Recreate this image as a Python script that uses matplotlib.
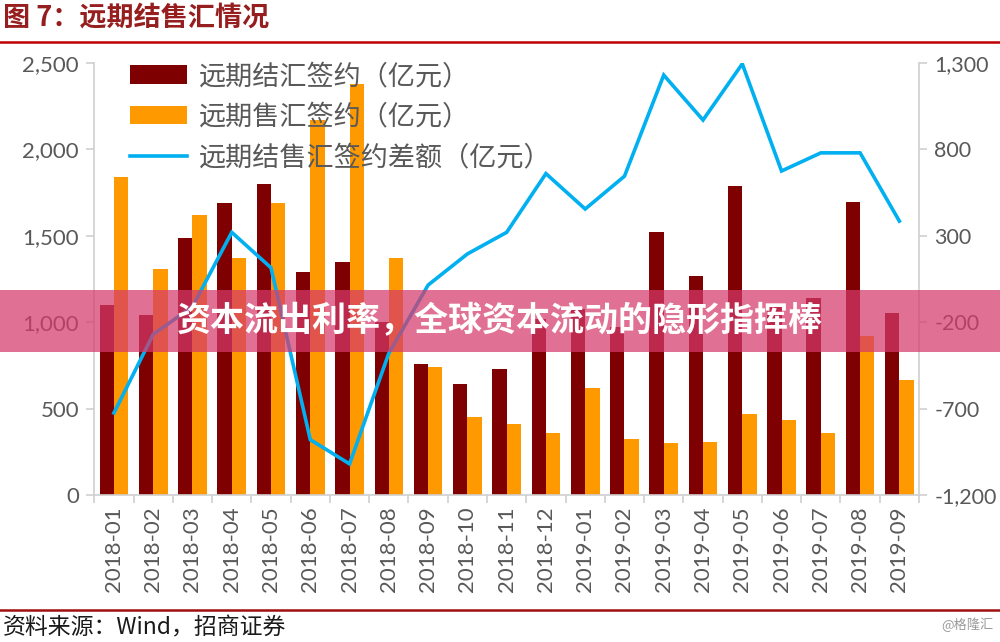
import matplotlib
matplotlib.use("Agg")
import matplotlib.pyplot as plt
from matplotlib.patches import Rectangle, Patch
from matplotlib.lines import Line2D
from matplotlib.ticker import FuncFormatter
import numpy as np

months = ['2018-01', '2018-02', '2018-03', '2018-04', '2018-05', '2018-06', '2018-07',
          '2018-08', '2018-09', '2018-10', '2018-11', '2018-12', '2019-01', '2019-02',
          '2019-03', '2019-04', '2019-05', '2019-06', '2019-07', '2019-08', '2019-09']
jiehui = [1100, 1040, 1490, 1690, 1800, 1290, 1350, 1000, 760, 645, 730, 1020,
          1075, 970, 1520, 1265, 1790, 1105, 1140, 1695, 1055]
shouhui = [1840, 1310, 1620, 1370, 1690, 2170, 2380, 1370, 740, 450, 410, 360,
           620, 325, 300, 305, 470, 435, 360, 920, 665]
diff = [-725, -270, -110, 320, 115, -880, -1020, -380, 15, 195, 320, 660,
        455, 645, 1230, 970, 1295, 675, 780, 780, 385]

left_ticks = [0, 500, 1000, 1500, 2000, 2500]
right_ticks = [-1200, -700, -200, 300, 800, 1300]

labels = ['远期结汇签约（亿元）', '远期售汇签约（亿元）', '远期结售汇签约差额（亿元）']
title = '图 7：远期结售汇情况'
source = '资料来源：Wind，招商证券'
banner = '资本流出利率，全球资本流动的隐形指挥棒'
watermark = '@格隆汇'

CJK = ['Noto Sans CJK SC', 'DejaVu Sans']
NUM = ['Lato', 'DejaVu Sans']
DARK = '#7F0000'
ORANGE = '#FF9900'
BLUE = '#00B0F0'
GRAY = '#595959'
SPINE = '#D0D0D0'

fig = plt.figure(figsize=(10, 6.42), dpi=100)
W, H = 1000, 642
ax = fig.add_axes([94.3 / W, (H - 495) / H, (919 - 94.3) / W, (495 - 63) / H])
ax2 = ax.twinx()

x = np.arange(len(months))
bw = 0.365
ax.bar(x - bw / 2, jiehui, width=bw, color=DARK, zorder=2)
ax.bar(x + bw / 2, shouhui, width=bw, color=ORANGE, zorder=2)
ax2.plot(x, diff, color=BLUE, lw=2.6, solid_joinstyle='miter', zorder=3)

ax.set_xlim(-0.5, len(months) - 0.5)
ax.set_ylim(0, 2500)
ax2.set_ylim(-1200, 1300)
ax.set_yticks(left_ticks)
ax2.set_yticks(right_ticks)
fmt = FuncFormatter(lambda v, p: f'{int(v):,}')
ax.yaxis.set_major_formatter(fmt)
ax2.yaxis.set_major_formatter(fmt)

ax.set_xticks(x)
ax.set_xticklabels(months, rotation=90, fontfamily=NUM, fontsize=16, color=GRAY)
ax.set_xticks(np.arange(-0.5, len(months)), minor=True)
ax.tick_params(axis='x', which='major', length=0, pad=8)
ax.tick_params(axis='x', which='minor', length=6, color=SPINE, width=1.2)

for a in (ax, ax2):
    for s in a.spines.values():
        s.set_visible(False)
for s in (ax.spines['left'], ax.spines['bottom'], ax2.spines['right']):
    s.set_visible(True)
    s.set_color(SPINE)
    s.set_linewidth(1.2)

ax.tick_params(axis='y', length=6, color=SPINE, width=1.2, pad=5, labelsize=16, labelcolor=GRAY)
ax2.tick_params(axis='y', length=6, color=SPINE, width=1.2, pad=5, labelsize=15.5, labelcolor=GRAY)
for lab in ax.get_yticklabels() + ax2.get_yticklabels():
    lab.set_fontfamily(NUM)

handles = [Patch(facecolor=DARK, edgecolor='none'),
           Patch(facecolor=ORANGE, edgecolor='none'),
           Line2D([0], [0], color=BLUE, lw=2.6)]
leg = ax2.legend(handles, labels, loc='upper left', bbox_to_anchor=(130 / W, (H - 63) / H),
                 bbox_transform=fig.transFigure, frameon=False, borderpad=0, borderaxespad=0,
                 handlelength=2.1, handleheight=0.68, handletextpad=0.45, labelspacing=0.5,
                 prop={'family': CJK, 'size': 19.5})
for t in leg.get_texts():
    t.set_color(GRAY)
leg.set_zorder(5)

# header / footer
fig.text(3 / W, 1 - 18 / H, title, fontfamily=CJK, fontsize=19.5, fontweight='bold',
         color='#961E1E', va='center', ha='left')
fig.add_artist(Line2D([0, 1], [1 - 42 / H, 1 - 42 / H], color='#C00000', lw=1.8,
                      transform=fig.transFigure))
fig.add_artist(Line2D([0, 1], [1 - 610 / H, 1 - 610 / H], color='#A01010', lw=1.8,
                      transform=fig.transFigure))
fig.text(3 / W, 1 - 628 / H, source, fontfamily=CJK, fontsize=16.5, color='#1A1A1A',
         va='center', ha='left')
fig.text(993 / W, 1 - 625 / H, watermark, fontfamily=CJK, fontsize=9.5, color='#9A9A9A',
         va='center', ha='right')

# banner overlay
fig.add_artist(Rectangle((0, 1 - 352 / H), 1, 62 / H, transform=fig.transFigure,
                         facecolor='#D63A6B', alpha=0.72, edgecolor='none', zorder=10))
fig.text(500 / W, 1 - 321 / H, banner, fontfamily=CJK, fontsize=24.5, fontweight='bold',
         color='white', va='center', ha='center', zorder=11)

fig.savefig('out.png', dpi=100)
